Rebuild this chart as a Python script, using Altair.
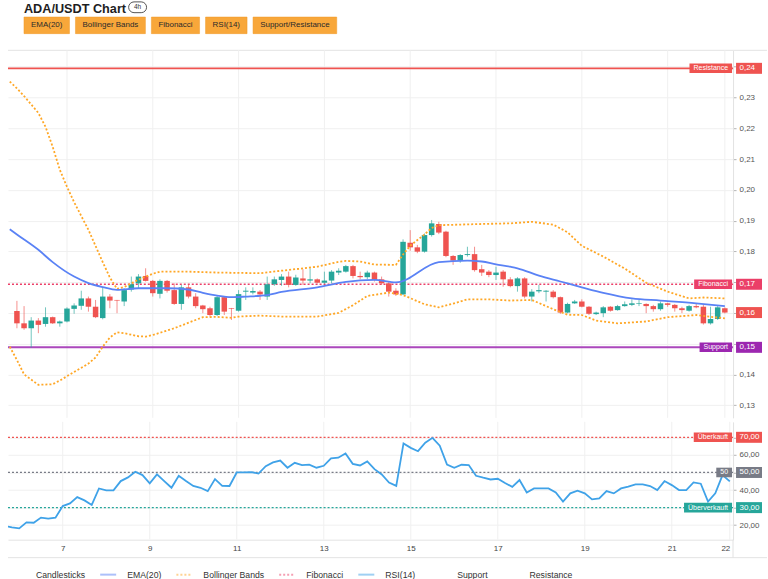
import altair as alt
import pandas as pd

# ---------------- data ----------------
# 4h candles, bar index 0 .. 99
opens = [0.1606, 0.1566, 0.1550, 0.1575, 0.1564, 0.1586, 0.1566, 0.1572, 0.1613, 0.1623,
         0.1647, 0.1620, 0.1583, 0.1653, 0.1642, 0.1637, 0.1676, 0.1696, 0.1720, 0.1704,
         0.1662, 0.1704, 0.1674, 0.1629, 0.1683, 0.1653, 0.1624, 0.1615, 0.1593, 0.1651,
         0.1615, 0.1607, 0.1669, 0.1666, 0.1669, 0.1653, 0.1693, 0.1707, 0.1718, 0.1691,
         0.1712, 0.1705, 0.1709, 0.1698, 0.1705, 0.1731, 0.1734, 0.1752, 0.1720, 0.1716,
         0.1731, 0.1709, 0.1696, 0.1672, 0.1660, 0.1828, 0.1813, 0.1799, 0.1853, 0.1889,
         0.1864, 0.1785, 0.1770, 0.1788, 0.1791, 0.1742, 0.1734, 0.1723, 0.1734, 0.1709,
         0.1687, 0.1712, 0.1653, 0.1670, 0.1669, 0.1669, 0.1651, 0.1601, 0.1631, 0.1637,
         0.1620, 0.1596, 0.1599, 0.1620, 0.1609, 0.1622, 0.1626, 0.1629, 0.1629, 0.1622,
         0.1612, 0.1631, 0.1626, 0.1615, 0.1607, 0.1622, 0.1620, 0.1566, 0.1580, 0.1615]
highs = [0.1639, 0.1622, 0.1586, 0.1583, 0.1618, 0.1588, 0.1575, 0.1618, 0.1631, 0.1672,
         0.1653, 0.1642, 0.1683, 0.1661, 0.1642, 0.1680, 0.1718, 0.1726, 0.1745, 0.1707,
         0.1709, 0.1707, 0.1696, 0.1691, 0.1694, 0.1664, 0.1626, 0.1620, 0.1658, 0.1653,
         0.1616, 0.1674, 0.1683, 0.1683, 0.1674, 0.1718, 0.1718, 0.1726, 0.1734, 0.1724,
         0.1742, 0.1745, 0.1712, 0.1734, 0.1739, 0.1745, 0.1756, 0.1756, 0.1734, 0.1737,
         0.1734, 0.1718, 0.1702, 0.1680, 0.1839, 0.1869, 0.1821, 0.1858, 0.1902, 0.1896,
         0.1867, 0.1788, 0.1791, 0.1815, 0.1815, 0.1756, 0.1739, 0.1750, 0.1739, 0.1716,
         0.1716, 0.1716, 0.1677, 0.1691, 0.1674, 0.1674, 0.1653, 0.1633, 0.1642, 0.1644,
         0.1622, 0.1604, 0.1622, 0.1622, 0.1626, 0.1637, 0.1644, 0.1642, 0.1631, 0.1626,
         0.1637, 0.1633, 0.1629, 0.1620, 0.1626, 0.1629, 0.1626, 0.1620, 0.1622, 0.1618]
lows = [0.1550, 0.1545, 0.1487, 0.1534, 0.1555, 0.1564, 0.1555, 0.1569, 0.1597, 0.1610,
        0.1604, 0.1583, 0.1579, 0.1615, 0.1599, 0.1622, 0.1669, 0.1680, 0.1702, 0.1653,
        0.1647, 0.1666, 0.1626, 0.1610, 0.1647, 0.1615, 0.1599, 0.1588, 0.1590, 0.1593,
        0.1577, 0.1604, 0.1642, 0.1660, 0.1642, 0.1642, 0.1688, 0.1688, 0.1683, 0.1688,
        0.1691, 0.1696, 0.1696, 0.1694, 0.1696, 0.1723, 0.1731, 0.1712, 0.1709, 0.1709,
        0.1702, 0.1691, 0.1653, 0.1655, 0.1658, 0.1802, 0.1794, 0.1796, 0.1848, 0.1856,
        0.1781, 0.1756, 0.1763, 0.1783, 0.1734, 0.1720, 0.1716, 0.1707, 0.1685, 0.1683,
        0.1669, 0.1647, 0.1637, 0.1664, 0.1637, 0.1647, 0.1597, 0.1599, 0.1629, 0.1618,
        0.1593, 0.1593, 0.1586, 0.1604, 0.1607, 0.1620, 0.1622, 0.1622, 0.1599, 0.1604,
        0.1607, 0.1620, 0.1604, 0.1599, 0.1604, 0.1615, 0.1562, 0.1562, 0.1577, 0.1598]
closes = [0.1566, 0.1550, 0.1575, 0.1561, 0.1586, 0.1566, 0.1572, 0.1614, 0.1624, 0.1647,
          0.1620, 0.1586, 0.1653, 0.1640, 0.1640, 0.1674, 0.1693, 0.1718, 0.1704, 0.1664,
          0.1704, 0.1672, 0.1629, 0.1683, 0.1653, 0.1622, 0.1612, 0.1593, 0.1651, 0.1604,
          0.1613, 0.1661, 0.1672, 0.1671, 0.1660, 0.1693, 0.1709, 0.1718, 0.1691, 0.1715,
          0.1705, 0.1709, 0.1698, 0.1705, 0.1734, 0.1737, 0.1752, 0.1720, 0.1716, 0.1731,
          0.1707, 0.1696, 0.1669, 0.1660, 0.1831, 0.1813, 0.1799, 0.1853, 0.1891, 0.1861,
          0.1785, 0.1770, 0.1788, 0.1791, 0.1739, 0.1731, 0.1723, 0.1731, 0.1709, 0.1687,
          0.1712, 0.1653, 0.1669, 0.1674, 0.1672, 0.1651, 0.1601, 0.1629, 0.1637, 0.1620,
          0.1597, 0.1601, 0.1618, 0.1607, 0.1622, 0.1628, 0.1631, 0.1631, 0.1622, 0.1612,
          0.1631, 0.1626, 0.1615, 0.1609, 0.1622, 0.1618, 0.1566, 0.1580, 0.1618, 0.1601]

# EMA(20) (bar index, value); index -1 lies just off the left edge
ema_idx = [-1, 0, 3, 5, 8, 10, 12, 14, 17, 19, 21, 24, 26, 28, 30, 32, 35, 37, 42, 46,
           50, 53, 59, 63, 65, 67, 69, 70, 73, 76, 79, 82, 86, 90, 95, 99]
ema_val = [0.1872, 0.1855, 0.1805, 0.1765, 0.1718, 0.1697, 0.1684, 0.1675, 0.1680, 0.1680,
           0.1680, 0.1676, 0.1665, 0.1656, 0.1651, 0.1653, 0.1658, 0.1668, 0.1683, 0.1701,
           0.1707, 0.1699, 0.1765, 0.1770, 0.1767, 0.1758, 0.1750, 0.1745, 0.1721, 0.1702,
           0.1683, 0.1665, 0.1647, 0.1640, 0.1631, 0.1622]

# Bollinger Bands
bb_up_idx = [-1, 0, 1, 3, 4, 5, 6, 7, 8, 10, 12, 13, 14, 15, 17, 19, 20, 24, 28, 34, 37,
             42, 45, 46, 48, 50, 53, 54, 55, 57, 58, 59, 65, 69, 72, 75, 77, 79, 82, 85,
             88, 91, 94, 96, 99]
bb_up_val = [0.2352, 0.2330, 0.2305, 0.2250, 0.2205, 0.2140, 0.2065, 0.2010, 0.1960, 0.1870,
             0.1765, 0.1715, 0.1678, 0.1684, 0.1708, 0.1727, 0.1734, 0.1734, 0.1731, 0.1729,
             0.1737, 0.1750, 0.1766, 0.1769, 0.1767, 0.1757, 0.1756, 0.1790, 0.1818, 0.1855,
             0.1876, 0.1885, 0.1889, 0.1891, 0.1896, 0.1887, 0.1862, 0.1818, 0.1783, 0.1744,
             0.1698, 0.1669, 0.1647, 0.1650, 0.1647]
bb_lo_idx = [-1, 0, 1, 3, 5, 6, 8, 10, 11, 12, 13, 14, 15, 17, 18, 19, 22, 26, 28, 30, 31,
             34, 37, 42, 45, 47, 49, 52, 54, 57, 59, 61, 63, 66, 69, 72, 75, 77, 79, 81,
             84, 88, 91, 95, 99]
bb_lo_val = [0.1490, 0.1447, 0.1400, 0.1366, 0.1368, 0.1380, 0.1408, 0.1435, 0.1455, 0.1490,
             0.1520, 0.1537, 0.1534, 0.1524, 0.1523, 0.1528, 0.1550, 0.1586, 0.1587, 0.1584,
             0.1588, 0.1591, 0.1588, 0.1588, 0.1600, 0.1625, 0.1655, 0.1666, 0.1658, 0.1628,
             0.1618, 0.1630, 0.1644, 0.1644, 0.1640, 0.1642, 0.1612, 0.1594, 0.1593, 0.1575,
             0.1566, 0.1572, 0.1586, 0.1593, 0.1582]

# RSI(14), bar index -1 .. 99
rsi_vals = [19.6, 18.8, 18.2, 21.6, 21.4, 24.3, 23.7, 24.3, 30.9, 32.4, 36.0, 34.1, 31.5,
            40.9, 39.8, 39.8, 45.1, 47.2, 50.4, 48.5, 43.8, 48.9, 45.1, 41.3, 48.1, 45.1,
            42.3, 41.3, 39.4, 46.2, 42.4, 42.3, 50.0, 50.0, 50.2, 49.4, 53.6, 55.7, 56.8,
            52.7, 55.5, 54.2, 54.5, 52.7, 53.8, 58.0, 58.4, 60.8, 54.9, 54.0, 56.3, 51.9,
            48.9, 44.3, 42.4, 66.5, 64.0, 62.1, 66.9, 69.7, 65.2, 54.5, 52.7, 54.4, 54.2,
            48.1, 47.0, 46.0, 46.4, 44.0, 41.8, 45.7, 38.6, 40.9, 40.9, 40.9, 38.6, 33.4,
            38.1, 39.6, 38.1, 34.7, 35.2, 39.4, 38.1, 40.9, 41.9, 43.2, 43.2, 42.3, 40.0,
            45.1, 42.8, 40.0, 40.0, 44.3, 43.6, 33.4, 38.1, 48.5, 44.9]

# levels
resistance = 0.2395
fibonacci = 0.1693
support = 0.1488
rsi_levels = [70, 50, 30]
rsi_level_names = ["Überkauft", "50", "Überverkauft"]

# axes
tick_idx = [7, 19, 31, 43, 55, 67, 79, 91, 99]
tick_labels = ["7", "9", "11", "13", "15", "17", "19", "21", "22"]
price_ticks = [0.13, 0.14, 0.15, 0.16, 0.17, 0.18, 0.19, 0.20, 0.21, 0.22, 0.23, 0.24]
price_ticks_hidden = [0.15, 0.16, 0.17, 0.24]    # labels sitting under the level tags
rsi_ticks = [20, 30, 40, 50, 60, 70]
rsi_ticks_hidden = [30, 50, 70]

title_text = "ADA/USDT Chart"
interval_text = "4h"
buttons = ["EMA(20)", "Bollinger Bands", "Fibonacci", "RSI(14)", "Support/Resistance"]
legend_labels = ["Candlesticks", "EMA(20)", "Bollinger Bands", "Fibonacci", "RSI(14)",
                 "Support", "Resistance"]

# ---------------- styling ----------------
FONT = "Liberation Sans"
UP, DOWN = "#26a69a", "#ef5350"
EMA_C = "#5a82f5"
BB_C = "#ffa726"
FIB_C = "#eb3f68"
RES_C = "#ef5350"
SUP_C = "#ab47bc"
SUP_TAG = "#9c27b0"
RSI_C = "#3fa2e8"
GRAY = "#787b86"
GRID = "#f0f0f0"
BORDER = "#e3e3e3"

W = 726        # plot width (both panes)
HP = 368       # price pane height
HR = 118       # RSI pane height
xs = alt.Scale(domain=[-0.55, 99.45], nice=False, zero=False)
ps = alt.Scale(domain=[0.125877, 0.245357], nice=False, zero=False)
rs = alt.Scale(domain=[11.76, 78.81], nice=False, zero=False)

AW = {" ": 278, "(": 333, ")": 333, ",": 278, ".": 278, "/": 278,
      "A": 667, "B": 667, "C": 722, "D": 722, "E": 667, "F": 611, "I": 278, "M": 833,
      "R": 722, "S": 667, "T": 611, "U": 722, "Ü": 722,
      "a": 556, "b": 556, "c": 500, "d": 556, "e": 556, "f": 278, "g": 556, "h": 556,
      "i": 222, "k": 500, "l": 222, "n": 556, "o": 556, "p": 556, "r": 333, "s": 500,
      "t": 278, "u": 556, "v": 500}


def tw(s, size):
    return sum(AW.get(ch, 556) for ch in s) / 1000.0 * size


def fmt_de(v):
    return f"{v:.2f}".replace(".", ",")


def js_list(vals):
    return "[" + ",".join(repr(v) for v in vals) + "]"


def label_expr(hidden):
    return (f"indexof({js_list(hidden)}, datum.value) >= 0 ? '' : "
            "replace(format(datum.value, '.2f'), '.', ',')")


price_axis = alt.Axis(orient="right", values=price_ticks,
                      labelExpr=label_expr(price_ticks_hidden),
                      grid=True, gridColor=GRID, tickSize=3, tickColor="#b5b5b5",
                      domainColor=BORDER, labelFontSize=8, labelColor="#555555",
                      labelPadding=3, title=None, labelFont=FONT)
rsi_axis = alt.Axis(orient="right", values=rsi_ticks, labelExpr=label_expr(rsi_ticks_hidden),
                    grid=True, gridColor=GRID, tickSize=3, tickColor="#b5b5b5",
                    domainColor=BORDER, labelFontSize=8, labelColor="#555555",
                    labelPadding=3, title=None, labelFont=FONT)
lab_js = "[" + ",".join("'" + s + "'" for s in tick_labels) + "]"
time_axis = alt.Axis(values=tick_idx,
                     labelExpr=f"{lab_js}[indexof({js_list(tick_idx)}, datum.value)]",
                     labelAlign=alt.condition(f"datum.value == {tick_idx[-1]}",
                                              alt.value("right"), alt.value("center")),
                     grid=False, ticks=False, domain=True, domainColor=BORDER,
                     labelFontSize=8, labelColor="#444444", labelPadding=5, title=None,
                     labelFont=FONT, labelFlush=False)

one = pd.DataFrame({"k": [0]})


def box(x1, x2, y1, y2, **mk):
    return alt.Chart(one).mark_rect(**mk).encode(
        x=alt.value(x1), x2=alt.value(x2), y=alt.value(y1), y2=alt.value(y2))


def label(x, y, txt, **mk):
    return alt.Chart(pd.DataFrame({"t": [txt]})).mark_text(**mk).encode(
        x=alt.value(x), y=alt.value(y), text="t:N")


def hline(x1, x2, y, **mk):
    return alt.Chart(one).mark_rule(**mk).encode(
        x=alt.value(x1), x2=alt.value(x2), y=alt.value(y))


def tag(value, name, color, scale, axis):
    d = pd.DataFrame({"v": [value], "name": [name], "val": [fmt_de(value)]})
    base = alt.Chart(d)
    y = alt.Y("v:Q", scale=scale, axis=axis)
    out = []
    if name:
        x2 = W - 1
        x1 = x2 - (tw(name, 7) + 8)
        out.append(base.mark_rect(color=color, yOffset=-4.8, y2Offset=4.8).encode(
            x=alt.value(x1), x2=alt.value(x2), y=y, y2="v:Q"))
        out.append(base.mark_text(color="white", fontSize=7, font=FONT).encode(
            x=alt.value((x1 + x2) / 2), y=y, text="name:N"))
    out.append(base.mark_rect(color=color, yOffset=-5.5, y2Offset=5.5).encode(
        x=alt.value(W + 3), x2=alt.value(W + 29), y=y, y2="v:Q"))
    out.append(base.mark_text(color="white", fontSize=8, font=FONT, align="left").encode(
        x=alt.value(W + 6.5), y=y, text="val:N"))
    return out


# ---------------- tables ----------------
n = len(opens)
candles = pd.DataFrame({"i": list(range(n)), "open": opens, "high": highs,
                        "low": lows, "close": closes})
candles["dir"] = ["up" if c >= o else "down" for o, c in zip(opens, closes)]
ema_df = pd.DataFrame({"i": ema_idx, "v": ema_val})
bbu_df = pd.DataFrame({"i": bb_up_idx, "v": bb_up_val})
bbl_df = pd.DataFrame({"i": bb_lo_idx, "v": bb_lo_val})
rsi_df = pd.DataFrame({"i": list(range(-1, len(rsi_vals) - 1)), "v": rsi_vals})
ticks_df = pd.DataFrame({"i": tick_idx})
dir_color = alt.Color("dir:N", scale=alt.Scale(domain=["up", "down"], range=[UP, DOWN]),
                      legend=None)
xp = alt.X("i:Q", scale=xs, axis=None)           # price pane: no time axis
xr = alt.X("i:Q", scale=xs, axis=time_axis)      # rsi pane: time axis at the bottom

# ---------------- price pane ----------------
layers = []
# header (above the plot area)
layers.append(box(-8, 760, -50, 0, color="white"))
layers.append(label(16, -37.5, title_text, align="left", baseline="alphabetic", fontSize=12.7,
                    fontWeight="bold", color="#1e1e1e", font=FONT))
bx1 = 16 + tw(title_text, 12.7) * 1.01 + 5
layers.append(box(bx1, bx1 + 18, -48.5, -37.7, fill="white", stroke="#555555",
                  strokeWidth=1, cornerRadius=5.4))
layers.append(label(bx1 + 9, -43, interval_text, fontSize=6.5, color="#333333", font=FONT))
bx = 16
for b in buttons:
    bw = tw(b, 8) + 14
    layers.append(box(bx, bx + bw, -33.3, -16.7, color="#f8a73a", stroke="#f09a26",
                      strokeWidth=0.5))
    layers.append(label(bx + bw / 2, -25, b, fontSize=8, color="#2a2a2a", font=FONT))
    bx += bw + 6
layers.append(hline(0, 760, 0, color=BORDER, strokeWidth=1))

# grid + levels + candles + indicators
layers.append(alt.Chart(ticks_df).mark_rule(color=GRID).encode(
    x=xp, y=alt.value(0), y2=alt.value(HP)))
for lvl, col, sw, dash in [(resistance, RES_C, 1.6, None), (support, SUP_C, 2, None),
                           (fibonacci, FIB_C, 1.5, [2, 2])]:
    mk = dict(color=col, strokeWidth=sw)
    if dash:
        mk["strokeDash"] = dash
    layers.append(alt.Chart(pd.DataFrame({"v": [lvl]})).mark_rule(**mk).encode(
        y=alt.Y("v:Q", scale=ps, axis=price_axis), x=alt.value(0), x2=alt.value(W)))
layers.append(alt.Chart(candles).mark_rule(strokeWidth=1, opacity=0.65).encode(
    x=xp, y=alt.Y("low:Q", scale=ps, axis=price_axis), y2="high:Q", color=dir_color))
layers.append(alt.Chart(candles).mark_bar(size=5.5).encode(
    x=xp, y=alt.Y("open:Q", scale=ps, axis=price_axis), y2="close:Q", color=dir_color))
for df in (bbu_df, bbl_df):
    layers.append(alt.Chart(df).mark_line(color=BB_C, strokeWidth=1.8, strokeDash=[2, 2],
                                          clip=True).encode(
        x=xp, y=alt.Y("v:Q", scale=ps, axis=price_axis)))
layers.append(alt.Chart(ema_df).mark_line(color=EMA_C, strokeWidth=1.8, clip=True,
                                          interpolate="monotone").encode(
    x=xp, y=alt.Y("v:Q", scale=ps, axis=price_axis)))
layers += tag(resistance, "Resistance", RES_C, ps, price_axis)
layers += tag(fibonacci, "Fibonacci", FIB_C, ps, price_axis)
layers += tag(closes[-1], None, DOWN, ps, price_axis)
layers += tag(support, "Support", SUP_TAG, ps, price_axis)

price = alt.layer(*layers).properties(width=W, height=HP)

# ---------------- RSI pane ----------------
rl = []
rl.append(alt.Chart(ticks_df).mark_rule(color=GRID).encode(
    x=xr, y=alt.value(0), y2=alt.value(HR)))
for lvl, col in zip(rsi_levels, [RES_C, GRAY, UP]):
    rl.append(alt.Chart(pd.DataFrame({"v": [lvl]})).mark_rule(
        color=col, strokeWidth=1.2, strokeDash=[2, 2]).encode(
        y=alt.Y("v:Q", scale=rs, axis=rsi_axis), x=alt.value(0), x2=alt.value(W)))
rl.append(alt.Chart(rsi_df).mark_line(color=RSI_C, strokeWidth=1.8, clip=True).encode(
    x=xr, y=alt.Y("v:Q", scale=rs, axis=rsi_axis)))
for lvl, nm, col in zip(rsi_levels, rsi_level_names, [RES_C, GRAY, UP]):
    rl += tag(lvl, nm, col, rs, rsi_axis)
# time axis frame and legend (below the plot area)
rl.append(box(-8, 760, HR + 18.5, HR + 41, color="white"))
rl.append(hline(0, 760, HR + 18, color=BORDER, strokeWidth=1))
rl.append(alt.Chart(one).mark_rule(color=BORDER).encode(
    x=alt.value(W), y=alt.value(HR), y2=alt.value(HR + 18)))
leg_colors = [None, EMA_C, BB_C, FIB_C, RSI_C, None, None]
leg_dash = [None, None, [2, 2], [2, 2], None, None, None]
LY = HR + 35
s = 1
for lab, col, dash in zip(legend_labels, leg_colors, leg_dash):
    if col:
        mk = dict(color=col, strokeWidth=2, opacity=0.5)
        if dash:
            mk["strokeDash"] = dash
        rl.append(hline(s, s + 16, LY, **mk))
    tx = s + 27
    rl.append(label(tx, LY, lab, align="left", fontSize=8.7, color="#333333", font=FONT))
    s = tx + tw(lab, 8.7) + 15

rsi = alt.layer(*rl).properties(width=W, height=HR)

chart = alt.vconcat(price, rsi, spacing=2).properties(
    padding=0, background="white").configure(font=FONT).configure_view(stroke=None)

chart.save("out.html", embed_options={"renderer": "svg", "actions": False})
